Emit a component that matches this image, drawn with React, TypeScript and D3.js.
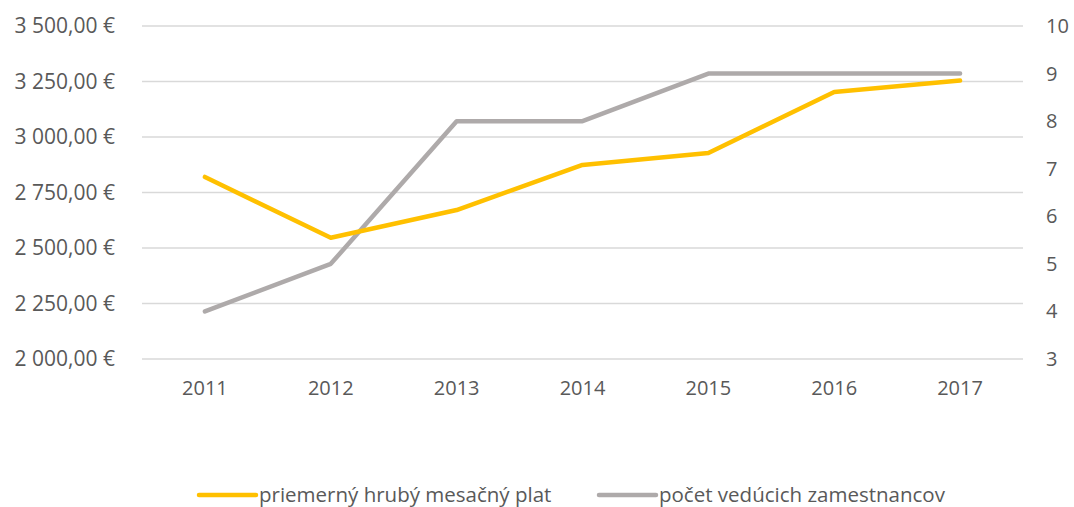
import React from "react";
import * as d3 from "d3";

const years = ["2011", "2012", "2013", "2014", "2015", "2016", "2017"];
const salary = [2820, 2546, 2671, 2874, 2928, 3203, 3254];
const managers = [4, 5, 8, 8, 9, 9, 9];
const leftTicks = [2000, 2250, 2500, 2750, 3000, 3250, 3500];
const rightTicks = [3, 4, 5, 6, 7, 8, 9, 10];
const seriesNames = ["priemerný hrubý mesačný plat", "počet vedúcich zamestnancov"];
const colors = ["#FFC000", "#AEAAAA"];

const W = 1074;
const H = 507;
const left = 142;
const right = 1023;
const top = 26;
const bottom = 359;
const font = "'Open Sans', sans-serif";
const textColor = "#595959";
const fs = 20;

function fmtEur(v: number) {
  const s = v.toFixed(2).replace(".", ",");
  const [i, d] = s.split(",");
  const withSp = i.replace(/\B(?=(\d{3})+(?!\d))/g, " ");
  return `${withSp},${d} €`;
}

export default function App() {
  const x = d3.scaleBand<string>().domain(years).range([left, right]);
  const yL = d3.scaleLinear().domain([2000, 3500]).range([bottom, top]);
  const yR = d3.scaleLinear().domain([3, 10]).range([bottom, top]);
  const cx = (y: string) => (x(y) as number) + x.bandwidth() / 2;

  const lineL = d3
    .line<number>()
    .x((_, i) => cx(years[i]))
    .y((d) => yL(d));
  const lineR = d3
    .line<number>()
    .x((_, i) => cx(years[i]))
    .y((d) => yR(d));

  return (
    <svg
      width={W}
      height={H}
      style={{ position: "absolute", left: 0, top: 0, background: "#fff" }}
      fontFamily={font}
    >
      {leftTicks.map((t) => (
        <g key={t}>
          <line x1={left} x2={right} y1={yL(t)} y2={yL(t)} stroke="#D9D9D9" strokeWidth={1.5} />
          <text x={115} y={yL(t)} dy="0.35em" textAnchor="end" fontSize={21} fill={textColor}>
            {fmtEur(t)}
          </text>
        </g>
      ))}
      {rightTicks.map((t) => (
        <text key={t} x={1046} y={yR(t)} dy="0.35em" textAnchor="start" fontSize={fs} fill={textColor}>
          {t}
        </text>
      ))}
      {years.map((y) => (
        <text key={y} x={cx(y)} y={388} dy="0.35em" textAnchor="middle" fontSize={fs} fill={textColor}>
          {y}
        </text>
      ))}
      <path d={lineR(managers) || ""} fill="none" stroke={colors[1]} strokeWidth={4.5} strokeLinecap="round" strokeLinejoin="round" />
      <path d={lineL(salary) || ""} fill="none" stroke={colors[0]} strokeWidth={4.5} strokeLinecap="round" strokeLinejoin="round" />
      {seriesNames.map((n, i) => {
        const lx = i === 0 ? 199 : 599;
        return (
          <g key={n}>
            <line x1={lx} x2={lx + 57} y1={495} y2={495} stroke={colors[i]} strokeWidth={4.5} strokeLinecap="round" />
            <text x={lx + 60} y={495} dy="0.35em" fontSize={20.5} fill={textColor}>
              {n}
            </text>
          </g>
        );
      })}
    </svg>
  );
}
